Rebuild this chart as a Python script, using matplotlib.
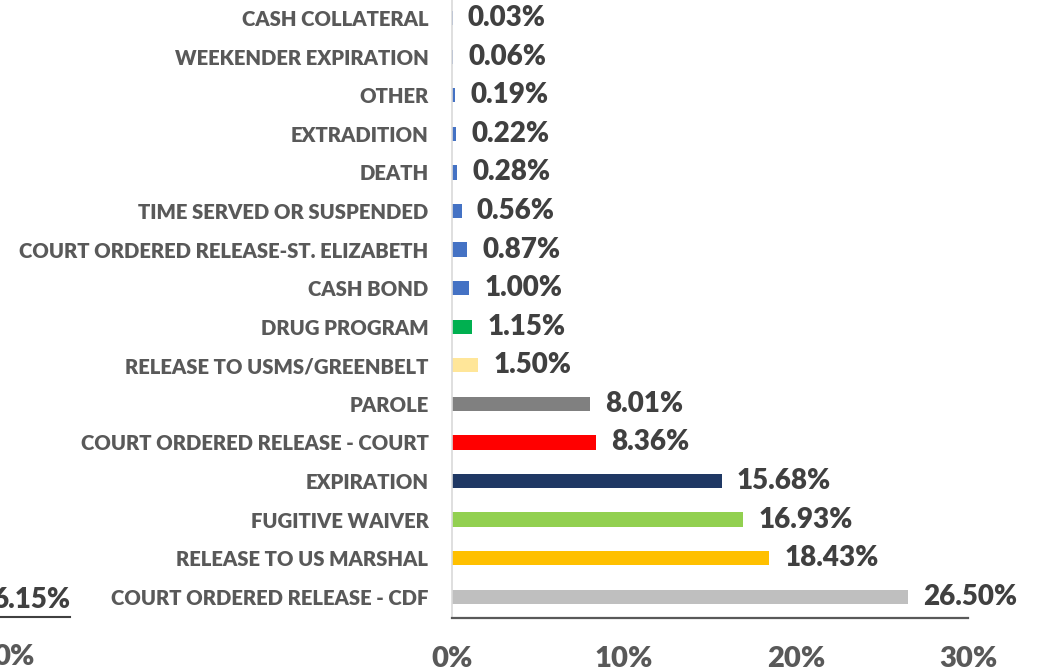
import matplotlib
matplotlib.use("Agg")
from matplotlib import pyplot as plt

plt.rcParams['font.family'] = ['Lato', 'DejaVu Sans']

categories = ["COURT ORDERED RELEASE - CDF", "RELEASE TO US MARSHAL", "FUGITIVE WAIVER",
              "EXPIRATION", "COURT ORDERED RELEASE - COURT", "PAROLE",
              "RELEASE TO USMS/GREENBELT", "DRUG PROGRAM", "CASH BOND",
              "COURT ORDERED RELEASE-ST. ELIZABETH", "TIME SERVED OR SUSPENDED",
              "DEATH", "EXTRADITION", "OTHER", "WEEKENDER EXPIRATION", "CASH COLLATERAL"]
values = [26.50, 18.43, 16.93, 15.68, 8.36, 8.01, 1.50, 1.15, 1.00, 0.87, 0.56,
          0.28, 0.22, 0.19, 0.06, 0.03]
colors = ["#BFBFBF", "#FFC000", "#92D050", "#1F3864", "#FF0000", "#808080",
          "#FFE699", "#00B050", "#4472C4", "#4472C4", "#4472C4", "#4472C4",
          "#4472C4", "#4472C4", "#4472C4", "#4472C4"]
xticks = [0, 10, 20, 30]

px = 1 / 100
W, H = 1043, 670
fig = plt.figure(figsize=(W * px, H * px), dpi=100)
ax = fig.add_axes([452 / W, (H - 618) / H, (968 - 452) / W, 618 / H])

y = list(range(len(categories)))
ax.barh(y, values, height=0.37, color=colors)

for yi, v in zip(y, values):
    ax.annotate("{:.2f}%".format(v), (v, yi), xytext=(11, 0), textcoords="offset points",
                ha="left", va="center", fontsize=20, fontweight="heavy", color="#404040")

ax.set_xlim(0, 30)
ax.set_ylim(-0.55, 15.47)
ax.set_yticks(y)
ax.set_yticklabels(categories, fontsize=14.6, fontweight="heavy", color="#595959")
ax.set_xticks(xticks)
ax.set_xticklabels(["{}%".format(t) for t in xticks], fontsize=21, fontweight="heavy",
                   color="#595959")
ax.tick_params(axis="y", length=0, pad=17)
ax.tick_params(axis="x", length=0, pad=20)

for s in ["top", "right"]:
    ax.spines[s].set_visible(False)
ax.spines["left"].set_color("#D9D9D9")
ax.spines["left"].set_linewidth(1.2)
ax.spines["bottom"].set_color("#595959")
ax.spines["bottom"].set_linewidth(1.6)

# fragments of the neighbouring chart on the left edge
fig.text(70 / W, 1 - 600 / H, "6.15%", ha="right", va="center", fontsize=20,
         fontweight="heavy", color="#404040")
fig.add_artist(plt.Line2D([0, 70 / W], [1 - 617 / H, 1 - 617 / H], color="#404040", lw=1.5))
fig.text(35 / W, 1 - 657 / H, "0%", ha="right", va="center", fontsize=21,
         fontweight="heavy", color="#595959")

plt.savefig("out.png", dpi=100)
